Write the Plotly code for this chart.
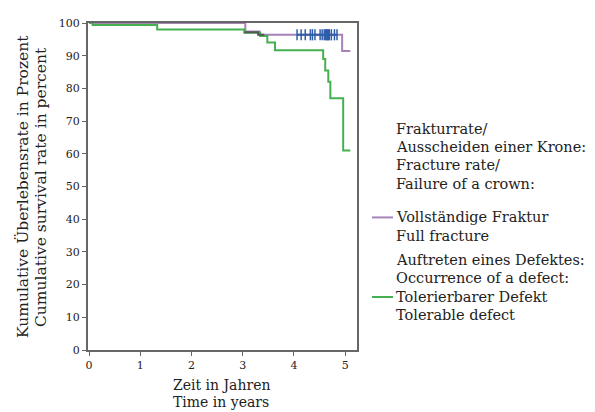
import plotly.graph_objects as go

# Full fracture (purple)
frac_t = [0, 3.05, 3.33, 4.94, 5.1]
frac_s = [100, 97.4, 96.4, 91.4, 91.4]

# Tolerable defect (green)
def_t = [0, 0.07, 1.33, 3.03, 3.34, 3.48, 3.63, 4.57, 4.61, 4.67, 4.71, 4.96, 5.1]
def_s = [100, 99.4, 98, 97, 96, 94, 91.7, 89, 85.5, 82, 77, 61, 61]

# overlap segment (dark)
ovl_t = [3.03, 3.30, 3.42]
ovl_s = [97.2, 96.4, 96.4]

# censoring marks
cens_t = [4.06, 4.14, 4.22, 4.32, 4.36, 4.41, 4.51, 4.55, 4.59, 4.61, 4.63,
          4.65, 4.67, 4.69, 4.73, 4.79, 4.84]
cens_s = [96.4] * len(cens_t)

x_ticks = [0, 1, 2, 3, 4, 5]
y_ticks = list(range(0, 101, 10))

legend_head1 = ["Frakturrate/", "Ausscheiden einer Krone:", "Fracture rate/", "Failure of a crown:"]
legend_item1 = ["Vollständige Fraktur", "Full fracture"]
legend_head2 = ["Auftreten eines Defektes:", "Occurrence of a defect:"]
legend_item2 = ["Tolerierbarer Defekt", "Tolerable defect"]

PURPLE = "#a583b8"
GREEN = "#45b04f"
BLUE = "#2f5ea8"
FONT = "DejaVu Serif"

fig = go.Figure()
fig.add_trace(go.Scatter(x=frac_t, y=frac_s, mode="lines", line=dict(shape="hv", color=PURPLE, width=2)))
fig.add_trace(go.Scatter(x=def_t, y=def_s, mode="lines", line=dict(shape="hv", color=GREEN, width=2)))
fig.add_trace(go.Scatter(x=ovl_t, y=ovl_s, mode="lines", line=dict(shape="hv", color="#555555", width=2)))
fig.add_trace(go.Scatter(x=cens_t, y=cens_s, mode="lines+markers",
                         line=dict(color=BLUE, width=2),
                         marker=dict(symbol="line-ns", size=8, line=dict(color=BLUE, width=1.5))))

# page has an 8px body margin: build the figure 8px smaller and shift targets
OFF = 8
W, H = 595 - OFF, 412 - OFF
ML, MT = 88 - OFF, 17 - OFF
PLOT_R, PLOT_B = 357 - OFF, 350 - OFF
MR, MB = W - PLOT_R, H - PLOT_B
PW = W - ML - MR
PH = H - MT - MB

def px(x):
    return (x - OFF - ML) / PW

def py(y):
    return (H - MB - (y - OFF)) / PH

ann = []
def add_text(lines, y0, step=18.8, size=14.5):
    for i, t in enumerate(lines):
        ann.append(dict(text=t, x=px(394), y=py(y0 + i * step), xref="paper", yref="paper",
                        xanchor="left", yanchor="middle", showarrow=False,
                        font=dict(family=FONT, size=size, color="#222")))

add_text(legend_head1, 124.5)
add_text(legend_item1, 215)
add_text(legend_head2, 258)
add_text(legend_item2, 296)

for t, y in [("Zeit in Jahren", 386), ("Time in years", 403)]:
    ann.append(dict(text=t, x=px(221), y=py(y), xref="paper", yref="paper",
                    showarrow=False, xanchor="center", yanchor="middle",
                    font=dict(family=FONT, size=14, color="#222")))
for t, x in [("Kumulative Überlebensrate in Prozent", 23), ("Cumulative survival rate in percent", 41)]:
    ann.append(dict(text=t, x=px(x), y=py(184), xref="paper", yref="paper", textangle=-90,
                    showarrow=False, xanchor="center", yanchor="middle",
                    font=dict(family=FONT, size=15.5, color="#222")))

shapes = [
    dict(type="line", xref="paper", yref="paper", x0=px(372), x1=px(393), y0=py(215), y1=py(215),
         line=dict(color=PURPLE, width=2)),
    dict(type="line", xref="paper", yref="paper", x0=px(372), x1=px(393), y0=py(296), y1=py(296),
         line=dict(color=GREEN, width=2)),
]

fig.update_layout(
    width=W, height=H,
    margin=dict(l=ML, r=MR, t=MT, b=MB),
    paper_bgcolor="white", plot_bgcolor="white",
    showlegend=False,
    annotations=ann, shapes=shapes,
    font=dict(family=FONT, size=11, color="#222"),
)
fig.update_xaxes(range=[-0.02, 5.23], tickvals=x_ticks, showgrid=False, zeroline=False,
                 showline=True, linecolor="#666", linewidth=2, mirror=True,
                 ticks="outside", ticklen=4, tickcolor="#666", tickfont=dict(family=FONT, size=11))
fig.update_yaxes(range=[0, 100], tickvals=y_ticks, showgrid=False, zeroline=False,
                 showline=True, linecolor="#666", linewidth=2, mirror=True,
                 ticks="outside", ticklen=4, tickcolor="#666", tickfont=dict(family=FONT, size=11))

fig.write_html("out.html")
